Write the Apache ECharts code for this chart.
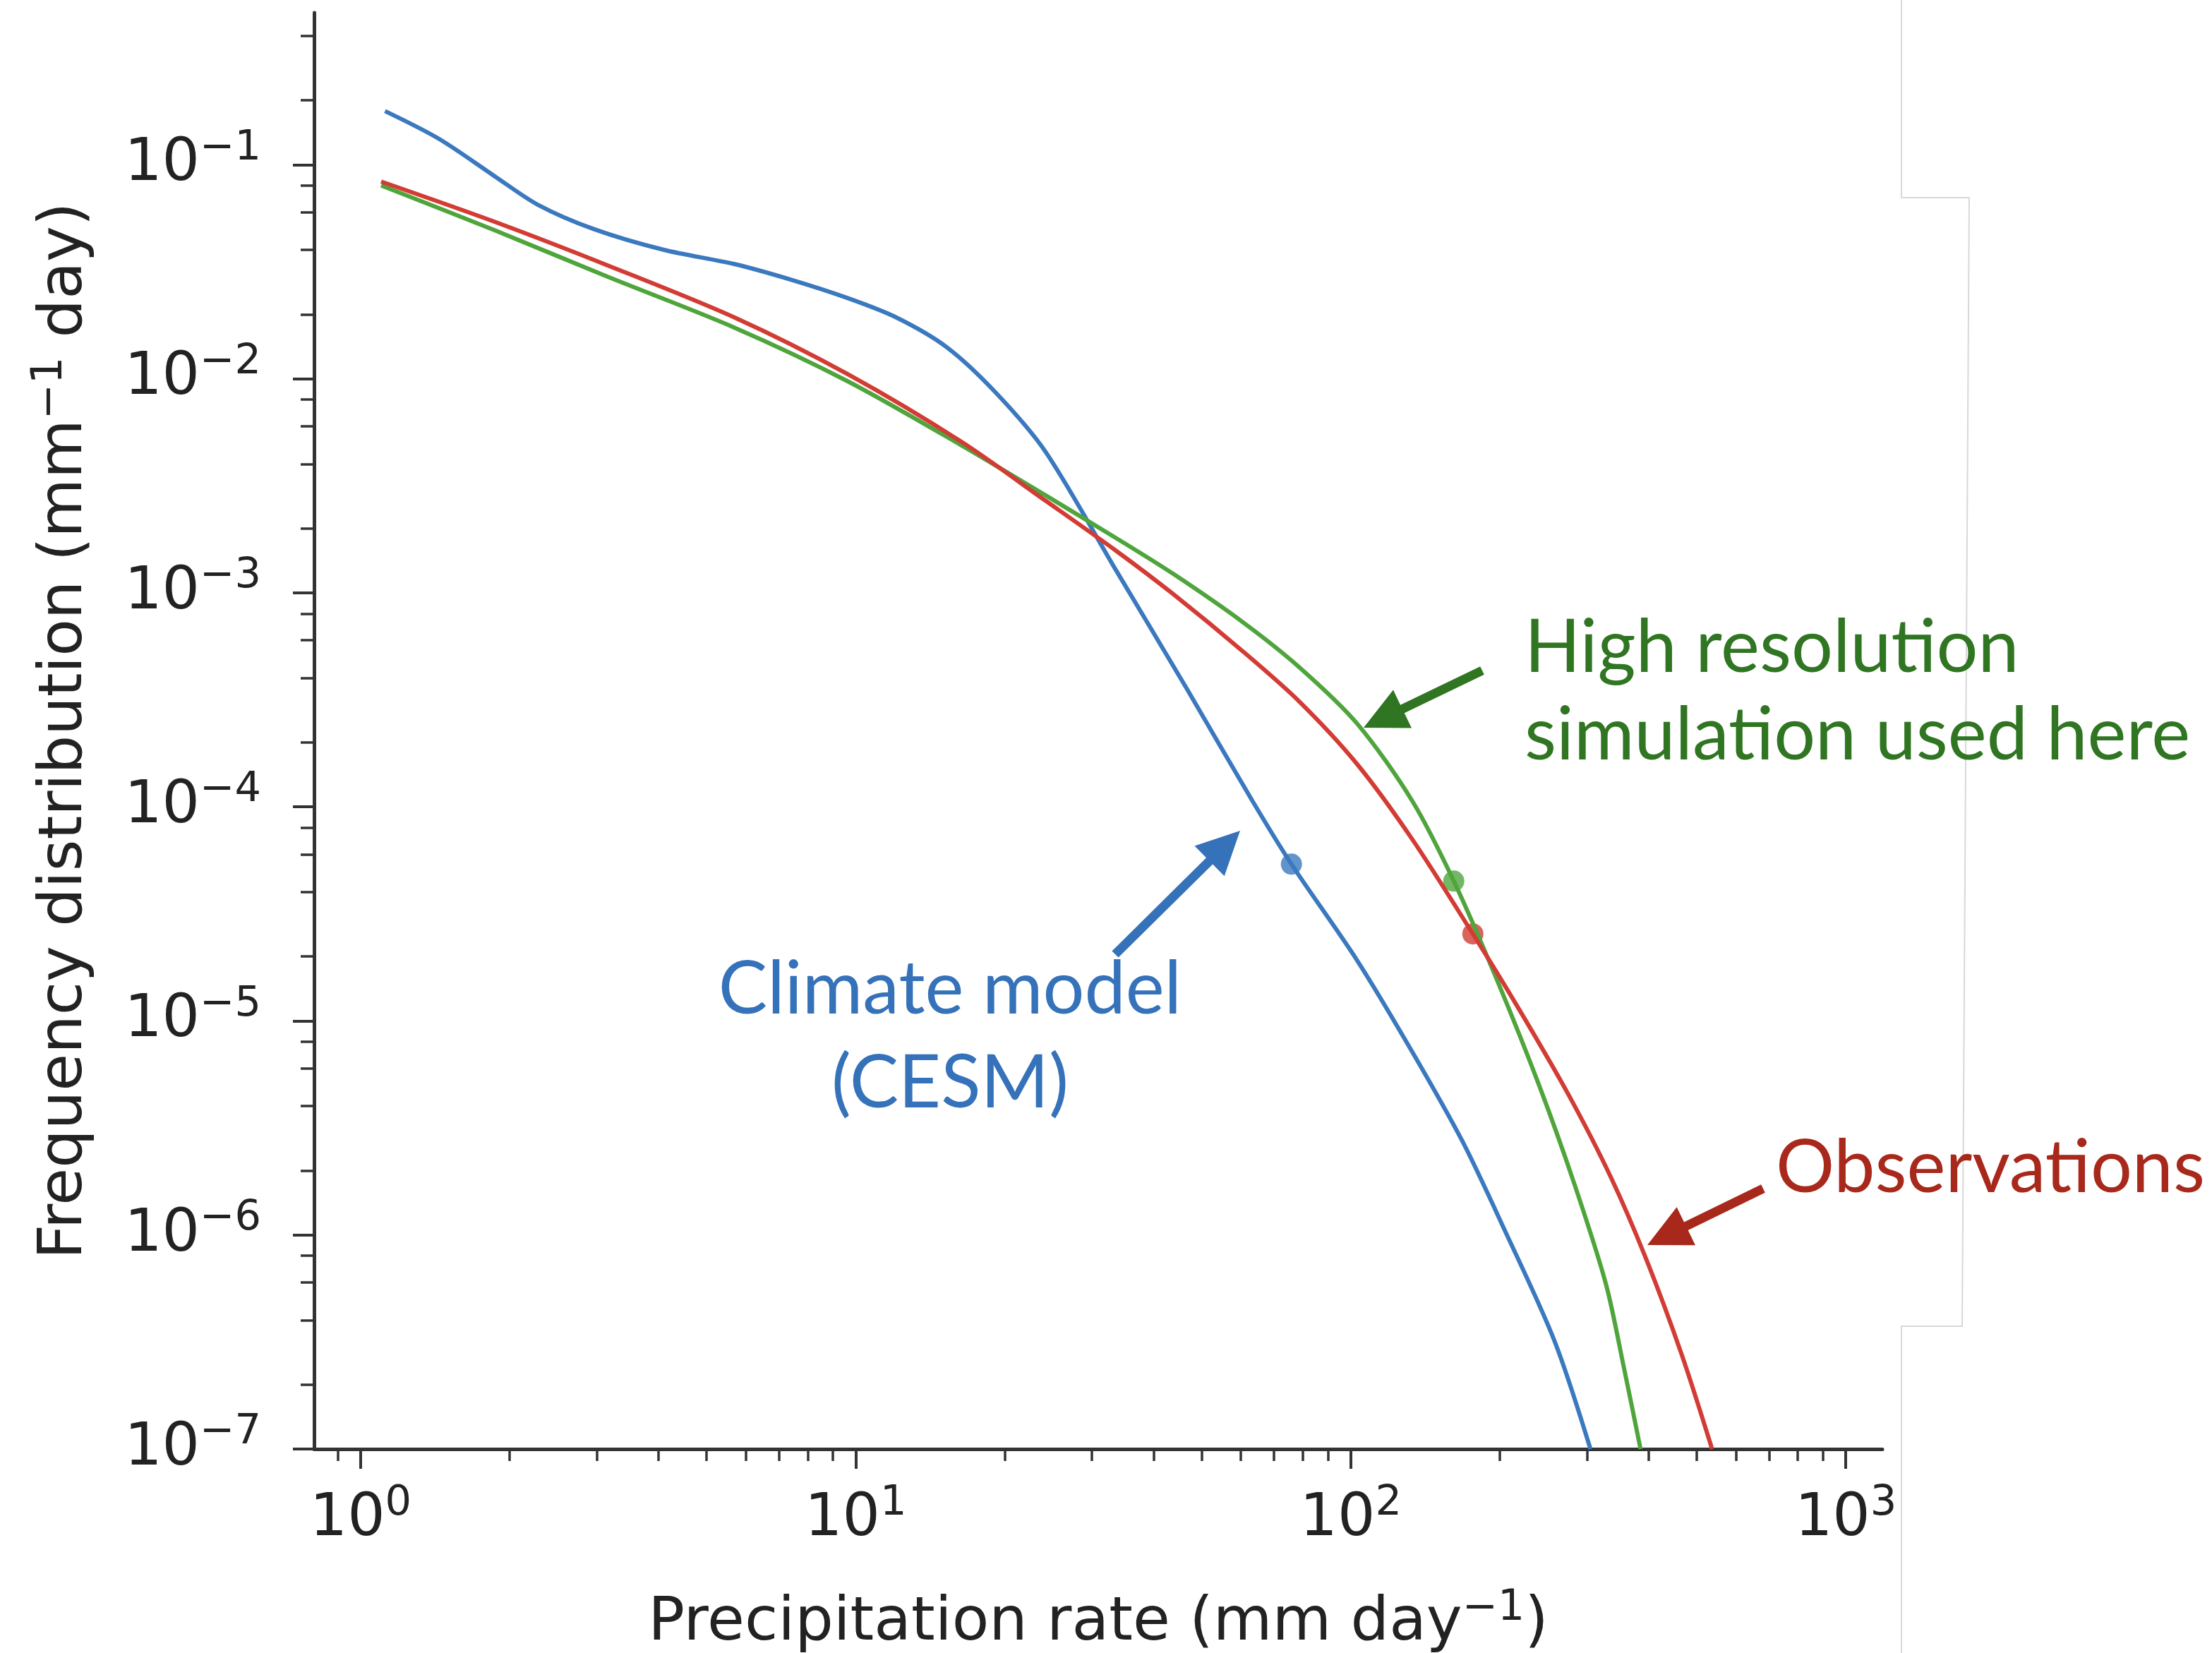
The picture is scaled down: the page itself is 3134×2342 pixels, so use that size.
<!DOCTYPE html>
<html>
<head>
<meta charset="utf-8">
<script src="https://cdn.jsdelivr.net/npm/echarts@6/dist/echarts.min.js"></script>
<style>
  html, body { margin: 0; padding: 0; background: #fff; }
  #chart { width: 3134px; height: 2342px; }
</style>
</head>
<body>
<div id="chart"></div>
<script>
// values: rate in mm/day, frequency in (mm/day)^-1
const cesmRate = [1.12, 1.44, 1.87, 2.28, 2.96, 4.10, 5.70, 7.41, 9.64, 12.1, 15.3, 19.2, 24.2, 33.6, 46.7, 63.4, 75.9, 103, 133, 168, 204, 258, 305]
const cesmFreq = [0.178, 0.132, 0.088, 0.065, 0.050, 0.040, 0.0343, 0.029, 0.0238, 0.0193, 0.014, 0.0086, 0.00455, 0.00127, 3.55e-4, 1.06e-4, 5.4e-5, 1.92e-5, 7.2e-6, 2.75e-6, 1.07e-6, 3.2e-7, 1e-7]

const hiresRate = [1.10, 1.87, 3.16, 5.70, 9.64, 16.3, 24.2, 33.6, 43.7, 60.7, 78.9, 103, 133, 161.5, 198, 241, 284, 328, 357, 385]
const hiresFreq = [0.080, 0.0493, 0.0299, 0.0173, 0.00973, 0.00491, 0.00285, 0.0018, 0.00123, 7.26e-4, 4.47e-4, 2.45e-4, 1.07e-4, 4.5e-5, 1.53e-5, 4.9e-6, 1.69e-6, 5.86e-7, 2.35e-7, 1e-7]

const obsRate = [1.10, 1.87, 3.16, 5.70, 9.64, 16.3, 24.2, 33.6, 43.7, 60.7, 78.9, 103, 133, 176.5, 219, 275, 335, 395, 466, 537]
const obsFreq = [0.0834, 0.054, 0.0338, 0.0193, 0.0105, 0.0051, 0.00269, 0.00157, 9.9e-4, 5.3e-4, 3.09e-4, 1.585e-4, 7.08e-5, 2.55e-5, 1.13e-5, 4.55e-6, 1.87e-6, 7.74e-7, 2.77e-7, 1e-7]

// the marked points [rate, frequency]
const cesmDot = [75.9, 5.4e-5]
const hiresDot = [161.5, 4.5e-5]
const obsDot = [176.5, 2.55e-5]

// tick exponents (powers of ten)
const xTickExp = [0, 1, 2, 3]
const yTickExp = [-7, -6, -5, -4, -3, -2, -1]

const xMin = -0.094, xMax = 3.074
const yMin = -7, yMax = -0.29

const lg = Math.log10
const toXY = (rate, freq) => rate.map((r, i) => [lg(r), lg(freq[i])])

// minor ticks: 2..9 on x, 2,4,6,8 on y (as matplotlib drew them)
const xMinor = []
for (let d = -1; d <= 3; d++) {
  for (let k = 2; k <= 9; k++) {
    const v = d + lg(k)
    if (v > xMin && v < xMax) xMinor.push(v)
  }
}
const yMinor = []
for (let d = -8; d <= 0; d++) {
  for (const k of [2, 4, 6, 8]) {
    const v = d + lg(k)
    if (v > yMin && v < yMax) yMinor.push(v)
  }
}

const blue = '#3b79bf'
const green = '#4fa53c'
const red = '#d23c35'
const axisColor = '#333'
const textColor = '#222'
const tickFont = 'DejaVu Sans'
const noteFont = 'Lato'

const powRich = {
  b: { fontSize: 84, lineHeight: 105, fontFamily: tickFont, color: textColor },
  s: { fontSize: 59, lineHeight: 59, verticalAlign: 'top', fontFamily: tickFont, color: textColor }
}
const nameRich = {
  t: { fontSize: 86, lineHeight: 104, fontFamily: tickFont, color: textColor },
  s: { fontSize: 60, lineHeight: 60, verticalAlign: 'top', fontFamily: tickFont, color: textColor }
}

function arrowPoints (tail, tip, shaftW, headL, headW) {
  const dx = tip[0] - tail[0]
  const dy = tip[1] - tail[1]
  const len = Math.hypot(dx, dy)
  const ux = dx / len, uy = dy / len
  const px = -uy, py = ux
  const bx = tip[0] - ux * headL, by = tip[1] - uy * headL
  const s = shaftW / 2, h = headW / 2
  return [
    [tail[0] + px * s, tail[1] + py * s],
    [bx + px * s, by + py * s],
    [bx + px * h, by + py * h],
    tip,
    [bx - px * h, by - py * h],
    [bx - px * s, by - py * s],
    [tail[0] - px * s, tail[1] - py * s]
  ]
}

function note (text, x, y, color, align) {
  return {
    type: 'text',
    z: 100,
    style: { text: text, x: x, y: y, fill: color, fontSize: 104, fontFamily: noteFont, align: align, verticalAlign: 'middle' }
  }
}

function arrow (tail, tip, color) {
  return {
    type: 'polygon',
    z: 100,
    shape: { points: arrowPoints(tail, tip, 13, 61, 60) },
    style: { fill: color }
  }
}

const chart = echarts.init(document.getElementById('chart'))
chart.setOption({
  animation: false,
  backgroundColor: '#fff',
  grid: { left: 445, right: 467, top: 18, bottom: 289, containLabel: false, outerBoundsMode: 'none' },
  xAxis: [{
    type: 'value',
    min: xMin,
    max: xMax,
    name: '{t|Precipitation rate (mm day}{s|−1}{t|)}',
    nameLocation: 'middle',
    nameGap: 196,
    nameMoveOverlap: false,
    nameTextStyle: { rich: nameRich },
    axisLine: { show: true, onZero: false, lineStyle: { color: axisColor, width: 5 } },
    axisTick: { show: true, customValues: xTickExp, length: 28, lineStyle: { color: axisColor, width: 4 } },
    axisLabel: {
      customValues: xTickExp,
      margin: 48,
      formatter: v => '{b|10}{s|' + Math.round(v) + '}',
      rich: powRich
    },
    splitLine: { show: false }
  }, {
    type: 'value',
    min: xMin,
    max: xMax,
    position: 'bottom',
    axisLine: { show: false, onZero: false },
    axisTick: { show: true, customValues: xMinor, length: 17, lineStyle: { color: axisColor, width: 3.5 } },
    axisLabel: { show: false },
    splitLine: { show: false }
  }],
  yAxis: [{
    type: 'value',
    min: yMin,
    max: yMax,
    name: '{t|Frequency distribution (mm}{s|−1}{t| day)}',
    nameLocation: 'middle',
    nameRotate: 90,
    nameGap: 300,
    nameMoveOverlap: false,
    nameTextStyle: { rich: nameRich },
    axisLine: { show: true, onZero: false, lineStyle: { color: axisColor, width: 5 } },
    axisTick: { show: true, customValues: yTickExp, length: 30, lineStyle: { color: axisColor, width: 4 } },
    axisLabel: {
      customValues: yTickExp,
      margin: 75,
      formatter: v => '{b|10}{s|−' + Math.abs(Math.round(v)) + '}',
      rich: powRich
    },
    splitLine: { show: false }
  }, {
    type: 'value',
    min: yMin,
    max: yMax,
    position: 'left',
    axisLine: { show: false, onZero: false },
    axisTick: { show: true, customValues: yMinor, length: 19, lineStyle: { color: axisColor, width: 3.5 } },
    axisLabel: { show: false },
    splitLine: { show: false }
  }],
  series: [
    {
      name: 'Climate model (CESM)',
      type: 'line',
      smooth: 0.3,
      showSymbol: false,
      lineStyle: { color: blue, width: 6 },
      data: toXY(cesmRate, cesmFreq)
    },
    {
      name: 'High resolution simulation',
      type: 'line',
      smooth: 0.3,
      showSymbol: false,
      lineStyle: { color: green, width: 6 },
      data: toXY(hiresRate, hiresFreq)
    },
    {
      name: 'Observations',
      type: 'line',
      smooth: 0.3,
      showSymbol: false,
      lineStyle: { color: red, width: 6 },
      data: toXY(obsRate, obsFreq)
    },
    {
      type: 'scatter',
      symbolSize: 30,
      itemStyle: { color: blue },
      data: [[lg(cesmDot[0]), lg(cesmDot[1])]]
    },
    {
      type: 'scatter',
      symbolSize: 30,
      itemStyle: { color: green },
      data: [[lg(hiresDot[0]), lg(hiresDot[1])]]
    },
    {
      type: 'scatter',
      symbolSize: 30,
      itemStyle: { color: red },
      data: [[lg(obsDot[0]), lg(obsDot[1])]]
    }
  ],
  graphic: [
    // faint slide frame edges at the right
    {
      type: 'polyline',
      shape: { points: [[2694, 0], [2694, 280], [2790, 280], [2780, 1879], [2694, 1879], [2694, 2342]] },
      style: { stroke: '#d8d8d8', lineWidth: 2, fill: null }
    },
    note('High resolution', 2160, 918, '#2f7522', 'left'),
    note('simulation used here', 2160, 1042, '#2f7522', 'left'),
    arrow([2100, 950], [1932, 1031], '#2f7522'),
    note('Climate model', 1346, 1402, '#3572b9', 'center'),
    note('(CESM)', 1346, 1535, '#3572b9', 'center'),
    arrow([1580, 1352], [1757, 1177], '#3572b9'),
    note('Observations', 2516, 1655, '#a8291b', 'left'),
    arrow([2498, 1684], [2334, 1764], '#a8291b')
  ]
})
</script>
</body>
</html>
